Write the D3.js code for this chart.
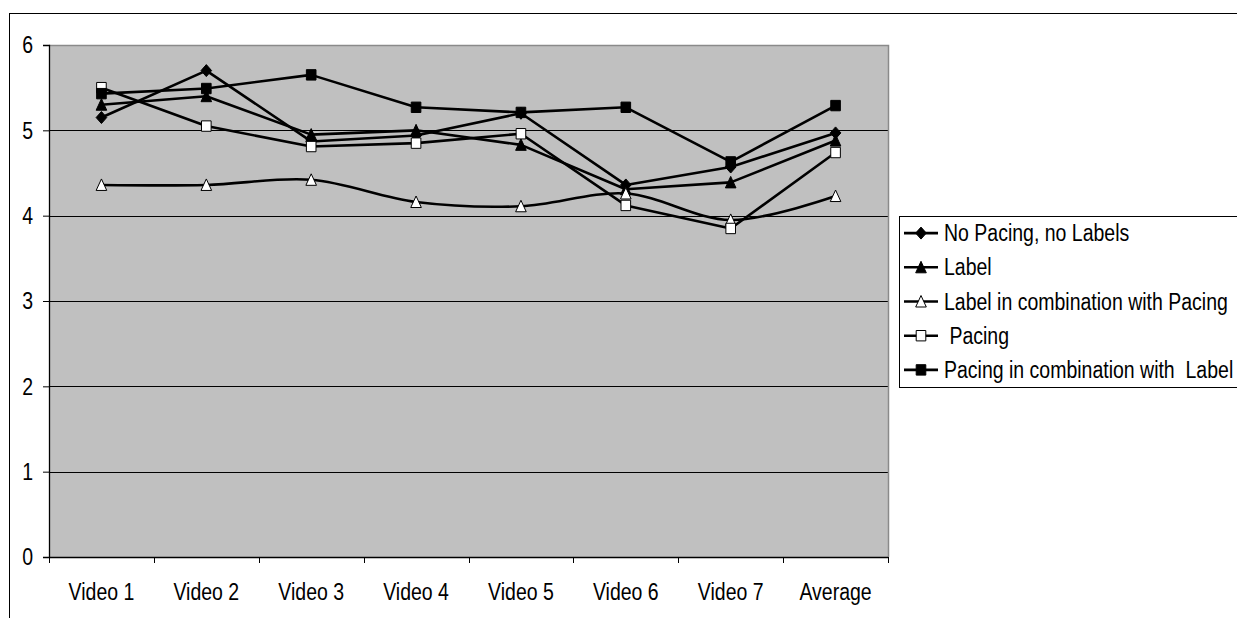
<!DOCTYPE html>
<html><head><meta charset="utf-8">
<script src="https://cdn.jsdelivr.net/npm/d3@7"></script>
<style>
html,body{margin:0;padding:0;background:#fff;}
text{font-family:"Liberation Sans",Arial,sans-serif;fill:#000;}
</style></head>
<body><svg id="chart" width="1237" height="618"></svg>
<script>
const categories = ["Video 1","Video 2","Video 3","Video 4","Video 5","Video 6","Video 7","Average"];
const yTicks = [0,1,2,3,4,5,6];
const seriesNames = ["No Pacing, no Labels","Label","Label in combination with Pacing"," Pacing","Pacing in combination with  Label"];
const noPacingNoLabels = [5.15,5.70,4.87,4.94,5.20,4.36,4.57,4.97];
const label = [5.30,5.40,4.95,5.00,4.83,4.31,4.39,4.88];
const labelWithPacing = [4.36,4.36,4.42,4.16,4.11,4.26,3.95,4.23];
const pacing = [5.50,5.05,4.81,4.85,4.96,4.12,3.85,4.74];
const pacingWithLabel = [5.43,5.49,5.65,5.27,5.21,5.27,4.63,5.29];

const series = [
  {name: seriesNames[0], values: noPacingNoLabels, marker: "diamond", fill: "#000", smooth: false},
  {name: seriesNames[1], values: label, marker: "triangle", fill: "#000", smooth: false},
  {name: seriesNames[2], values: labelWithPacing, marker: "triangle", fill: "#fff", smooth: true},
  {name: seriesNames[3], values: pacing, marker: "square", fill: "#fff", smooth: false},
  {name: seriesNames[4], values: pacingWithLabel, marker: "square", fill: "#000", smooth: false}
];

const svg = d3.select("#chart");
const L = 49, R = 888, T = 45, B = 557;
const FS = 19.5, SY = 1.18;

// outer frame
svg.append("rect").attr("x",9.5).attr("y",13.5).attr("width",1300).attr("height",700)
  .attr("fill","#fff").attr("stroke","#000").attr("stroke-width",1);

const x = d3.scaleBand().domain(categories).range([L,R]).padding(0);
const y = d3.scaleLinear().domain([0,6]).range([B,T]);
const cx = c => x(c) + x.bandwidth()/2;

// plot area
svg.append("rect").attr("x",L).attr("y",T).attr("width",R-L).attr("height",B-T).attr("fill","#c0c0c0");
// gridlines
svg.append("g").selectAll("line").data(yTicks.filter(d=>d>0 && d<6)).join("line")
  .attr("x1",L).attr("x2",R).attr("y1",d=>Math.round(y(d))+0.5).attr("y2",d=>Math.round(y(d))+0.5)
  .attr("stroke","#000").attr("stroke-width",1);
// plot border top/right gray
svg.append("path").attr("d",`M${L},${T+0.5}H${R+0.5}V${B}`).attr("fill","none").attr("stroke","#8a8a8a").attr("stroke-width",1.5);

// y axis
const yAxis = svg.append("g").attr("transform",`translate(${L},0)`)
  .call(d3.axisLeft(y).tickValues(yTicks).tickFormat(d3.format("d")).tickSize(6).tickPadding(10));
yAxis.select(".domain").attr("stroke","#000").attr("stroke-width",1.3);
yAxis.selectAll(".tick line").attr("stroke","#000");
yAxis.selectAll(".tick text").attr("font-size",FS).attr("font-family","Liberation Sans, Arial, sans-serif")
  .attr("transform",`scale(1,${SY})`).attr("dy","0.34em");

// x axis
const xAxis = svg.append("g").attr("transform",`translate(0,${B})`)
  .call(d3.axisBottom(x).tickSize(0).tickPadding(22.5));
xAxis.select(".domain").remove();
xAxis.selectAll(".tick text").attr("font-size",FS).attr("font-family","Liberation Sans, Arial, sans-serif")
  .attr("transform",`scale(1,${SY})`);
svg.append("line").attr("x1",L).attr("x2",R).attr("y1",B+0.5).attr("y2",B+0.5).attr("stroke","#000").attr("stroke-width",1.3);
const bounds = categories.map(c=>x(c)).concat([x(categories[categories.length-1])+x.bandwidth()]);
svg.append("g").selectAll("line").data(bounds).join("line")
  .attr("x1",d=>Math.round(d)+0.5).attr("x2",d=>Math.round(d)+0.5).attr("y1",B).attr("y2",B+6)
  .attr("stroke","#000").attr("stroke-width",1);

// markers
function markerPath(type){
  if(type==="diamond") return "M0,-6L5.3,0L0,6L-5.3,0Z";
  if(type==="triangle") return "M0,-6L5.3,5.5L-5.3,5.5Z";
  return "M-4.8,-5.2H4.8V5.2H-4.8Z";
}

const straight = d3.line().x((d,i)=>cx(categories[i])).y(d=>y(d));
const smooth = d3.line().x((d,i)=>cx(categories[i])).y(d=>y(d)).curve(d3.curveCatmullRom.alpha(0.5));

series.forEach(s=>{
  const g = svg.append("g");
  g.append("path").attr("d",(s.smooth?smooth:straight)(s.values)).attr("fill","none")
    .attr("stroke","#000").attr("stroke-width",2.6).attr("stroke-linejoin","round");
  g.selectAll("path.m").data(s.values).join("path").attr("class","m")
    .attr("transform",(d,i)=>`translate(${cx(categories[i])},${y(d)})`)
    .attr("d",markerPath(s.marker)).attr("fill",s.fill).attr("stroke","#000").attr("stroke-width",1);
});

// legend
const LX = 899, LT = 216, LB = 387;
svg.append("rect").attr("x",LX+0.5).attr("y",LT+0.5).attr("width",400).attr("height",LB-LT)
  .attr("fill","#fff").attr("stroke","#000").attr("stroke-width",1);
const rowH = (LB-LT)/5;
series.forEach((s,i)=>{
  const yy = LT + rowH*(i+0.5);
  const g = svg.append("g").attr("transform",`translate(0,${yy})`);
  g.append("line").attr("x1",904).attr("x2",938).attr("y1",0).attr("y2",0).attr("stroke","#000").attr("stroke-width",2.6);
  g.append("path").attr("transform","translate(921,0)").attr("d",markerPath(s.marker))
    .attr("fill",s.fill).attr("stroke","#000").attr("stroke-width",1);
  g.append("text").attr("x",944).attr("y",0).attr("dy","0.35em").attr("font-size",FS)
    .attr("transform",`scale(1,${SY})`).attr("xml:space","preserve").style("white-space","pre").text(s.name);
});
</script></body></html>
